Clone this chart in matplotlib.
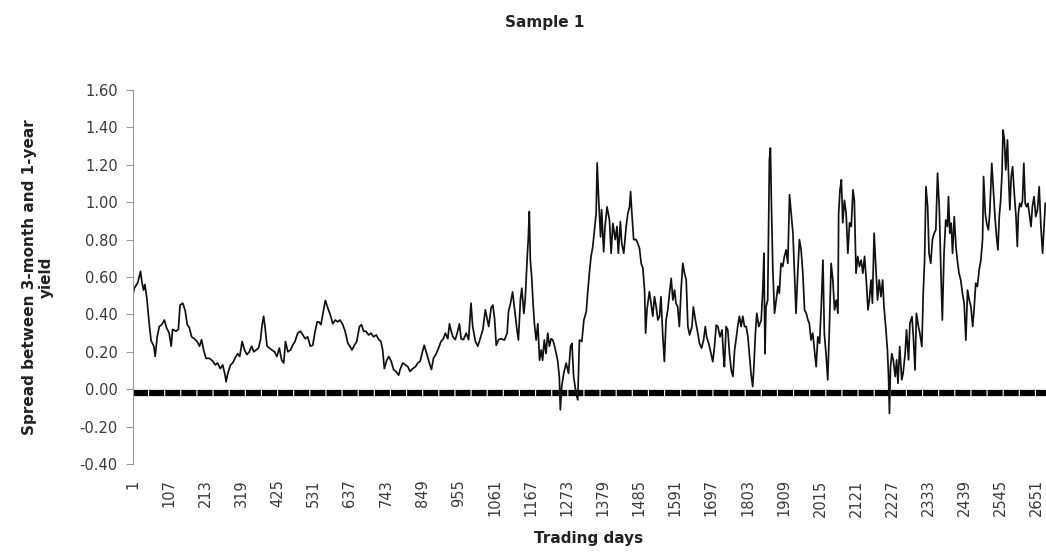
import numpy as np
import matplotlib.pyplot as plt
from matplotlib.ticker import FixedLocator, StrMethodFormatter

# spread readings (trading day, spread)
days = [
    1, 5, 15, 23, 27, 32, 36, 42, 48, 54, 62, 66, 72, 78, 85, 93, 99, 107, 113, 117,
    127, 134, 139, 147, 154, 160, 166, 173, 181, 189, 196, 202, 208, 215, 225, 235, 242, 249, 257, 264,
    271, 274, 279, 287, 293, 300, 308, 314, 321, 328, 335, 342, 349, 355, 362, 369, 375, 379, 384, 388,
    394, 401, 408, 416, 423, 430, 437, 443, 448, 455, 463, 469, 476, 484, 492, 499, 506, 513, 521, 528,
    535, 541,
    546, 552, 559, 565, 572, 579, 587, 594, 601, 608, 616, 623, 631, 637, 643, 650, 657, 665, 671, 677,
    684, 692, 699, 706, 714, 722, 728, 733, 738, 745, 751, 758, 765, 772, 780, 784, 792, 800, 807, 813,
    821, 829, 836, 843, 851, 855, 862, 870, 876, 882, 890, 897, 904, 911, 917, 924, 929, 934, 939, 946,
    953, 958, 963, 970, 978, 985, 992, 997, 1005, 1012, 1019, 1027, 1034, 1038, 1044, 1051, 1056, 1061, 1066, 1073,
    1080,
    1090, 1098, 1102, 1108, 1114, 1119, 1127, 1131, 1137, 1141, 1147, 1151, 1157, 1160, 1163, 1166, 1170, 1174, 1178, 1183,
    1188, 1193, 1198, 1202, 1207, 1212, 1217, 1222, 1227, 1232, 1237, 1242, 1246, 1251, 1254, 1258, 1264, 1271, 1278, 1284,
    1288, 1293, 1300, 1305, 1310, 1317, 1323, 1330, 1334, 1339, 1344, 1349, 1354, 1359, 1362, 1366, 1372, 1375, 1381, 1385,
    1391, 1398, 1403, 1408, 1415, 1420, 1424, 1430, 1434, 1440, 1447, 1452, 1457, 1460, 1463, 1469, 1476, 1481, 1486, 1491,
    1496, 1501, 1504, 1508, 1515, 1520, 1525, 1530, 1535, 1540, 1545, 1549, 1554, 1559, 1564, 1569, 1574, 1579, 1584, 1589,
    1593, 1598, 1603, 1608, 1613, 1618, 1623,
    1628, 1633, 1640, 1644, 1650, 1657, 1662, 1668, 1674, 1679, 1683, 1689, 1696, 1701, 1706, 1711, 1716, 1722, 1728, 1732,
    1735, 1740, 1745, 1750, 1755, 1760, 1765, 1769, 1774, 1779, 1784, 1789, 1794, 1799, 1804, 1809, 1813, 1818, 1821, 1826,
    1830, 1836, 1843, 1848, 1851, 1854, 1857, 1862, 1867, 1870, 1873, 1877, 1882, 1887, 1892, 1896, 1901, 1906, 1911, 1916,
    1921, 1926, 1931, 1936, 1940, 1945, 1950, 1955, 1960, 1965, 1970, 1975, 1980, 1984, 1989, 1994, 1999, 2004, 2009, 2014,
    2019, 2024, 2028, 2033, 2038, 2043, 2048, 2053, 2058, 2063, 2068, 2070, 2074, 2078, 2082, 2087, 2092, 2097, 2102, 2107,
    2112, 2116, 2121, 2126, 2131, 2136, 2141, 2146, 2151, 2156, 2160, 2165,
    2169, 2174, 2179, 2184, 2189, 2194, 2199, 2203, 2208, 2213, 2216, 2219, 2222, 2226, 2230, 2236, 2240, 2244, 2249, 2255,
    2259, 2265, 2269, 2275, 2279, 2285, 2289, 2294, 2298, 2304, 2308, 2314, 2318, 2322, 2326, 2331, 2335, 2340, 2345, 2350,
    2355, 2360, 2365, 2370, 2374, 2379, 2384, 2389, 2392, 2396, 2400, 2404, 2409, 2414, 2418, 2423, 2428, 2433, 2438, 2443,
    2448, 2453, 2458, 2463, 2467, 2472, 2477, 2482, 2487, 2492, 2495, 2500, 2504, 2509, 2513, 2519, 2523, 2529, 2533, 2537,
    2541, 2545, 2549, 2552, 2556, 2560, 2565, 2568, 2572, 2576, 2580, 2585, 2590, 2594, 2597, 2601, 2605, 2609, 2613, 2617,
    2621, 2625, 2629, 2634, 2638, 2643, 2648, 2653, 2658, 2663, 2668, 2673, 2676,
]
spread = [
    0.51, 0.54, 0.57, 0.63, 0.575, 0.53, 0.56, 0.48, 0.36, 0.26, 0.23, 0.175, 0.28, 0.335, 0.345, 0.37, 0.33, 0.30, 0.23, 0.32,
    0.31, 0.32, 0.45, 0.46, 0.42, 0.345, 0.33, 0.28, 0.27, 0.255, 0.23, 0.265, 0.21, 0.165, 0.165, 0.15, 0.13, 0.14, 0.11, 0.13,
    0.075, 0.04, 0.085, 0.13, 0.14, 0.165, 0.19, 0.175, 0.255, 0.21, 0.185, 0.20, 0.23, 0.20, 0.21, 0.22, 0.265, 0.335, 0.39, 0.335,
    0.23, 0.22, 0.21, 0.20, 0.175, 0.22, 0.155, 0.14, 0.255, 0.20, 0.21, 0.235, 0.255, 0.30, 0.31, 0.29, 0.27, 0.28, 0.23, 0.235,
    0.31, 0.36,
    0.36, 0.345, 0.415, 0.475, 0.435, 0.40, 0.35, 0.37, 0.36, 0.37, 0.345, 0.31, 0.245, 0.23, 0.21, 0.235, 0.255, 0.335, 0.345, 0.31,
    0.31, 0.29, 0.30, 0.28, 0.29, 0.265, 0.255, 0.21, 0.11, 0.155, 0.175, 0.15, 0.105, 0.095, 0.075, 0.105, 0.14, 0.13, 0.12, 0.095,
    0.11, 0.12, 0.14, 0.15, 0.21, 0.235, 0.19, 0.14, 0.105, 0.165, 0.19, 0.22, 0.255, 0.27, 0.30, 0.27, 0.35, 0.31, 0.28, 0.265,
    0.31, 0.35, 0.27, 0.265, 0.30, 0.265, 0.46, 0.335, 0.255, 0.23, 0.27, 0.32, 0.425, 0.39, 0.335, 0.435, 0.45, 0.38, 0.235, 0.265,
    0.27,
    0.263, 0.30, 0.415, 0.46, 0.52, 0.44, 0.315, 0.263, 0.48, 0.54, 0.405, 0.48, 0.71, 0.805, 0.95, 0.69, 0.60, 0.46, 0.35, 0.263,
    0.35, 0.155, 0.21, 0.155, 0.263, 0.19, 0.30, 0.23, 0.27, 0.263, 0.23, 0.19, 0.155, 0.067, -0.11, 0.014, 0.085, 0.14, 0.085, 0.23,
    0.245, 0.067, -0.02, -0.057, 0.263, 0.255, 0.37, 0.415, 0.51, 0.62, 0.71, 0.76, 0.85, 0.94, 1.21, 1.03, 0.815, 0.96, 0.735, 0.87,
    0.975, 0.905, 0.727, 0.887, 0.80, 0.87, 0.727, 0.896, 0.78, 0.727, 0.87, 0.94, 0.975, 1.057, 0.96, 0.80, 0.80, 0.78, 0.754, 0.673,
    0.647, 0.53, 0.30, 0.424, 0.522, 0.46, 0.39, 0.495, 0.44, 0.37, 0.39, 0.495, 0.30, 0.148, 0.37, 0.424, 0.513, 0.593, 0.477, 0.53,
    0.46, 0.44, 0.335, 0.53, 0.673, 0.62, 0.585,
    0.335, 0.29, 0.335, 0.44, 0.37, 0.30, 0.245, 0.22, 0.263, 0.335, 0.28, 0.245, 0.19, 0.147, 0.228, 0.343, 0.335, 0.28, 0.317, 0.19,
    0.12, 0.335, 0.317, 0.19, 0.103, 0.068, 0.21, 0.263, 0.335, 0.39, 0.335, 0.39, 0.335, 0.335, 0.28, 0.175, 0.085, 0.014, 0.103, 0.30,
    0.406, 0.335, 0.37, 0.55, 0.727, 0.19, 0.44, 0.477, 1.226, 1.29, 0.98, 0.64, 0.406, 0.477, 0.55, 0.513, 0.673, 0.656, 0.71, 0.745,
    0.673, 1.04, 0.94, 0.834, 0.638, 0.406, 0.62, 0.80, 0.745, 0.62, 0.424, 0.406, 0.37, 0.353, 0.263, 0.30, 0.21, 0.12, 0.28, 0.245,
    0.44, 0.69, 0.30, 0.19, 0.05, 0.335, 0.673, 0.584, 0.424, 0.477, 0.406, 0.94, 1.066, 1.12, 0.89, 1.01, 0.94, 0.727, 0.89, 0.87,
    1.066, 1.01, 0.62, 0.71, 0.656, 0.69, 0.62, 0.71, 0.584, 0.424, 0.477, 0.584,
    0.46, 0.834, 0.656, 0.477, 0.584, 0.495, 0.584, 0.44, 0.335, 0.21, 0.085, -0.129, 0.12, 0.19, 0.157, 0.068, 0.157, 0.032, 0.228, 0.05,
    0.085, 0.19, 0.317, 0.157, 0.353, 0.388, 0.28, 0.103, 0.406, 0.335, 0.30, 0.228, 0.513, 0.69, 1.083, 0.976, 0.727, 0.673, 0.80, 0.834,
    0.852, 1.155, 0.976, 0.62, 0.37, 0.727, 0.905, 0.87, 1.03, 0.834, 0.888, 0.727, 0.923, 0.763, 0.69, 0.62, 0.584, 0.513, 0.46, 0.263,
    0.53, 0.477, 0.44, 0.335, 0.424, 0.567, 0.549, 0.638, 0.69, 0.80, 1.137, 0.94, 0.888, 0.852, 0.94, 1.208, 1.083, 0.905, 0.816, 0.745,
    0.923, 1.01, 1.155, 1.386, 1.333, 1.173, 1.333, 1.155, 0.96, 1.137, 1.19, 1.048, 0.923, 0.763, 0.94, 0.994, 0.976, 1.01, 1.208, 0.994,
    0.976, 0.994, 0.94, 0.87, 0.976, 1.03, 0.923, 0.96, 1.083, 0.87, 0.727, 0.888, 0.994,
]

zero_level = -0.02
first_day, last_day = 1, 2678
x_ticks = list(range(1, 2652, 106))
y_ticks = np.arange(-0.40, 1.61, 0.20)

plt.rcParams['font.family'] = ['DejaVu Sans']
plt.rcParams['axes.unicode_minus'] = False

fig = plt.figure(figsize=(10.46, 5.52), dpi=100)
ax = fig.add_axes([133 / 1046, 1 - 464 / 552, 913 / 1046, 374 / 552])

# thick dashed reference line
ax.plot([first_day, last_day], [zero_level, zero_level], color='black',
        lw=4.5, linestyle=(0, (2.4, 0.18)), dash_capstyle='butt', zorder=1)
ax.plot(days, spread, color='#111111', lw=1.25, zorder=2)

ax.set_xlim(first_day, last_day)
ax.set_ylim(-0.40, 1.60)
ax.xaxis.set_major_locator(FixedLocator(x_ticks))
ax.set_xticklabels([str(t) for t in x_ticks], rotation=90)
ax.yaxis.set_major_locator(FixedLocator(y_ticks))
ax.yaxis.set_major_formatter(StrMethodFormatter('{x:.2f}'))

for s in ['top', 'right', 'bottom']:
    ax.spines[s].set_visible(False)
ax.spines['left'].set_color('#9a9a9a')
ax.tick_params(axis='y', direction='out', length=5, color='#9a9a9a',
               labelcolor='#3a3a3a', labelsize=10.5, pad=6)
ax.tick_params(axis='x', length=0, labelcolor='#3a3a3a', labelsize=10.5, pad=11)

fig.text(545 / 1046, 1 - 22 / 552, 'Sample 1', ha='center', va='center',
         fontsize=11, fontweight='bold', color='#222222')
fig.text(589 / 1046, 1 - 538 / 552, 'Trading days', ha='center', va='center',
         fontsize=11, fontweight='bold', color='#222222')
fig.text(38 / 1046, 1 - 277 / 552, 'Spread between 3-month and 1-year\nyield',
         rotation=90, ha='center', va='center', multialignment='center',
         fontsize=11, fontweight='bold', color='#222222', linespacing=1.15)

fig.savefig('out.png', dpi=100)
